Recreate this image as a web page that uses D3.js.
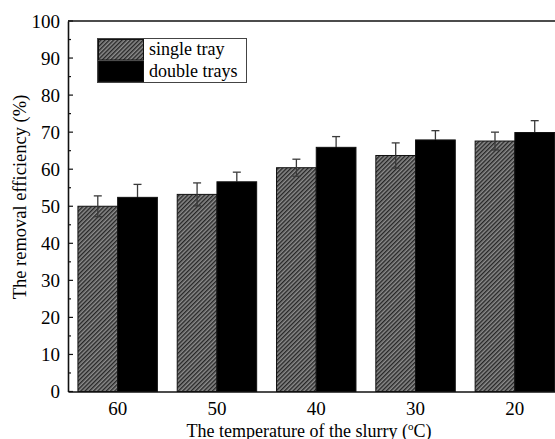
<!DOCTYPE html>
<html><head><meta charset="utf-8">
<script src="https://cdn.jsdelivr.net/npm/d3@7"></script>
<style>body{margin:0;background:#fff}svg{display:block}svg text{font-family:"Liberation Serif","Times New Roman",serif !important;fill:#000}</style>
</head><body><svg id="c" width="555" height="439"></svg>
<script>
const categories = ["60","50","40","30","20"];
const singleTray = [50.0, 53.2, 60.4, 63.7, 67.6];
const singleErr  = [2.8, 3.1, 2.3, 3.4, 2.4];
const doubleTrays = [52.4, 56.6, 65.9, 67.9, 69.9];
const doubleErr  = [3.5, 2.6, 2.9, 2.5, 3.2];
const yTicks = [0,10,20,30,40,50,60,70,80,90,100];
const seriesNames = ["single tray","double trays"];

const svg = d3.select("#c");
const m = {l:68, t:21, b:391.5, r:564.5};
const x = d3.scaleBand().domain(categories).range([m.l, m.r]).paddingInner(0.2).paddingOuter(0.1);
const xs = d3.scaleBand().domain([0,1]).range([0, x.bandwidth()]);
const y = d3.scaleLinear().domain([0,100]).range([m.b, m.t]);

const defs = svg.append("defs");
const pat = defs.append("pattern").attr("id","hatch").attr("patternUnits","userSpaceOnUse")
  .attr("width",3).attr("height",3).attr("patternTransform","rotate(45)");
pat.append("rect").attr("width",3).attr("height",3).attr("fill","#8c8c8c");
pat.append("rect").attr("width",1.4).attr("height",3).attr("fill","#262626");

const fills = ["url(#hatch)","#000"];
const data = [singleTray, doubleTrays];
const errs = [singleErr, doubleErr];

data.forEach((vals, s) => {
  const g = svg.append("g");
  g.selectAll("rect").data(categories).join("rect")
    .attr("x", d => x(d) + xs(s))
    .attr("y", (d,i) => y(vals[i]))
    .attr("width", xs.bandwidth())
    .attr("height", (d,i) => y(0) - y(vals[i]))
    .attr("fill", fills[s]).attr("stroke","#111").attr("stroke-width",1);
});
data.forEach((vals, s) => {
  const g = svg.append("g").attr("stroke-width",1.3);
  const col = "#3a3a3a";
  const lowCol = s===0 ? col : "#000";
  categories.forEach((d,i) => {
    const cx = x(d) + xs(s) + xs.bandwidth()/2;
    const top = y(vals[i]);
    const hi = y(vals[i] + errs[s][i]), lo = y(vals[i] - errs[s][i]);
    g.append("line").attr("x1",cx).attr("x2",cx).attr("y1",hi).attr("y2",top).attr("stroke",col);
    g.append("line").attr("x1",cx).attr("x2",cx).attr("y1",top).attr("y2",lo).attr("stroke",lowCol);
    g.append("line").attr("x1",cx-4).attr("x2",cx+4).attr("y1",hi).attr("y2",hi).attr("stroke",col);
    g.append("line").attr("x1",cx-4).attr("x2",cx+4).attr("y1",lo).attr("y2",lo).attr("stroke",lowCol);
  });
});

// frame
svg.append("line").attr("x1",m.l).attr("x2",m.r).attr("y1",m.t).attr("y2",m.t).attr("stroke","#111").attr("stroke-width",1.6);
// y axis
const ya = svg.append("g").attr("transform",`translate(${m.l},0)`)
  .call(d3.axisLeft(y).tickValues(yTicks).tickSize(0).tickPadding(8));
ya.attr("font-family","Liberation Serif").attr("font-size",19);
ya.select(".domain").attr("stroke","#111").attr("stroke-width",1.6);
ya.selectAll("text").attr("font-size",19);
const minor = d3.range(0,101,5);
svg.append("g").selectAll("line").data(minor).join("line")
  .attr("x1",m.l).attr("x2",d => m.l + (d%10===0 ? 5 : 3))
  .attr("y1",d=>y(d)).attr("y2",d=>y(d)).attr("stroke","#111").attr("stroke-width",1.2);
// x axis
const xa = svg.append("g").attr("transform",`translate(0,${m.b})`)
  .call(d3.axisBottom(x).tickSize(0).tickPadding(10));
xa.attr("font-family","Liberation Serif").attr("font-size",19);
xa.select(".domain").attr("stroke","#111").attr("stroke-width",1.6);
xa.selectAll("text").attr("font-size",19);

// axis titles
svg.append("text").attr("transform","translate(26,197) rotate(-90)").attr("text-anchor","middle")
  .attr("font-size",18.5).text("The removal efficiency (%)");
const xt = svg.append("text").attr("x",309).attr("y",436.5).attr("text-anchor","middle").attr("font-size",18);
xt.append("tspan").text("The temperature of the slurry  (");
xt.append("tspan").attr("font-size",11).attr("dy",-7).text("o");
xt.append("tspan").attr("dy",7).text("C)");

// legend
const lg = svg.append("g");
lg.append("rect").attr("x",97.5).attr("y",38.5).attr("width",149).attr("height",44).attr("fill","#fff").attr("stroke","#444").attr("stroke-width",1);
seriesNames.forEach((n,i) => {
  lg.append("rect").attr("x",98.5).attr("y",39.5 + i*21.5).attr("width",45).attr("height",20.5)
    .attr("fill",fills[i]).attr("stroke","#111").attr("stroke-width",1);
  lg.append("text").attr("x",149).attr("y",55 + i*21.5).attr("font-size",18).text(n);
});
</script></body></html>
